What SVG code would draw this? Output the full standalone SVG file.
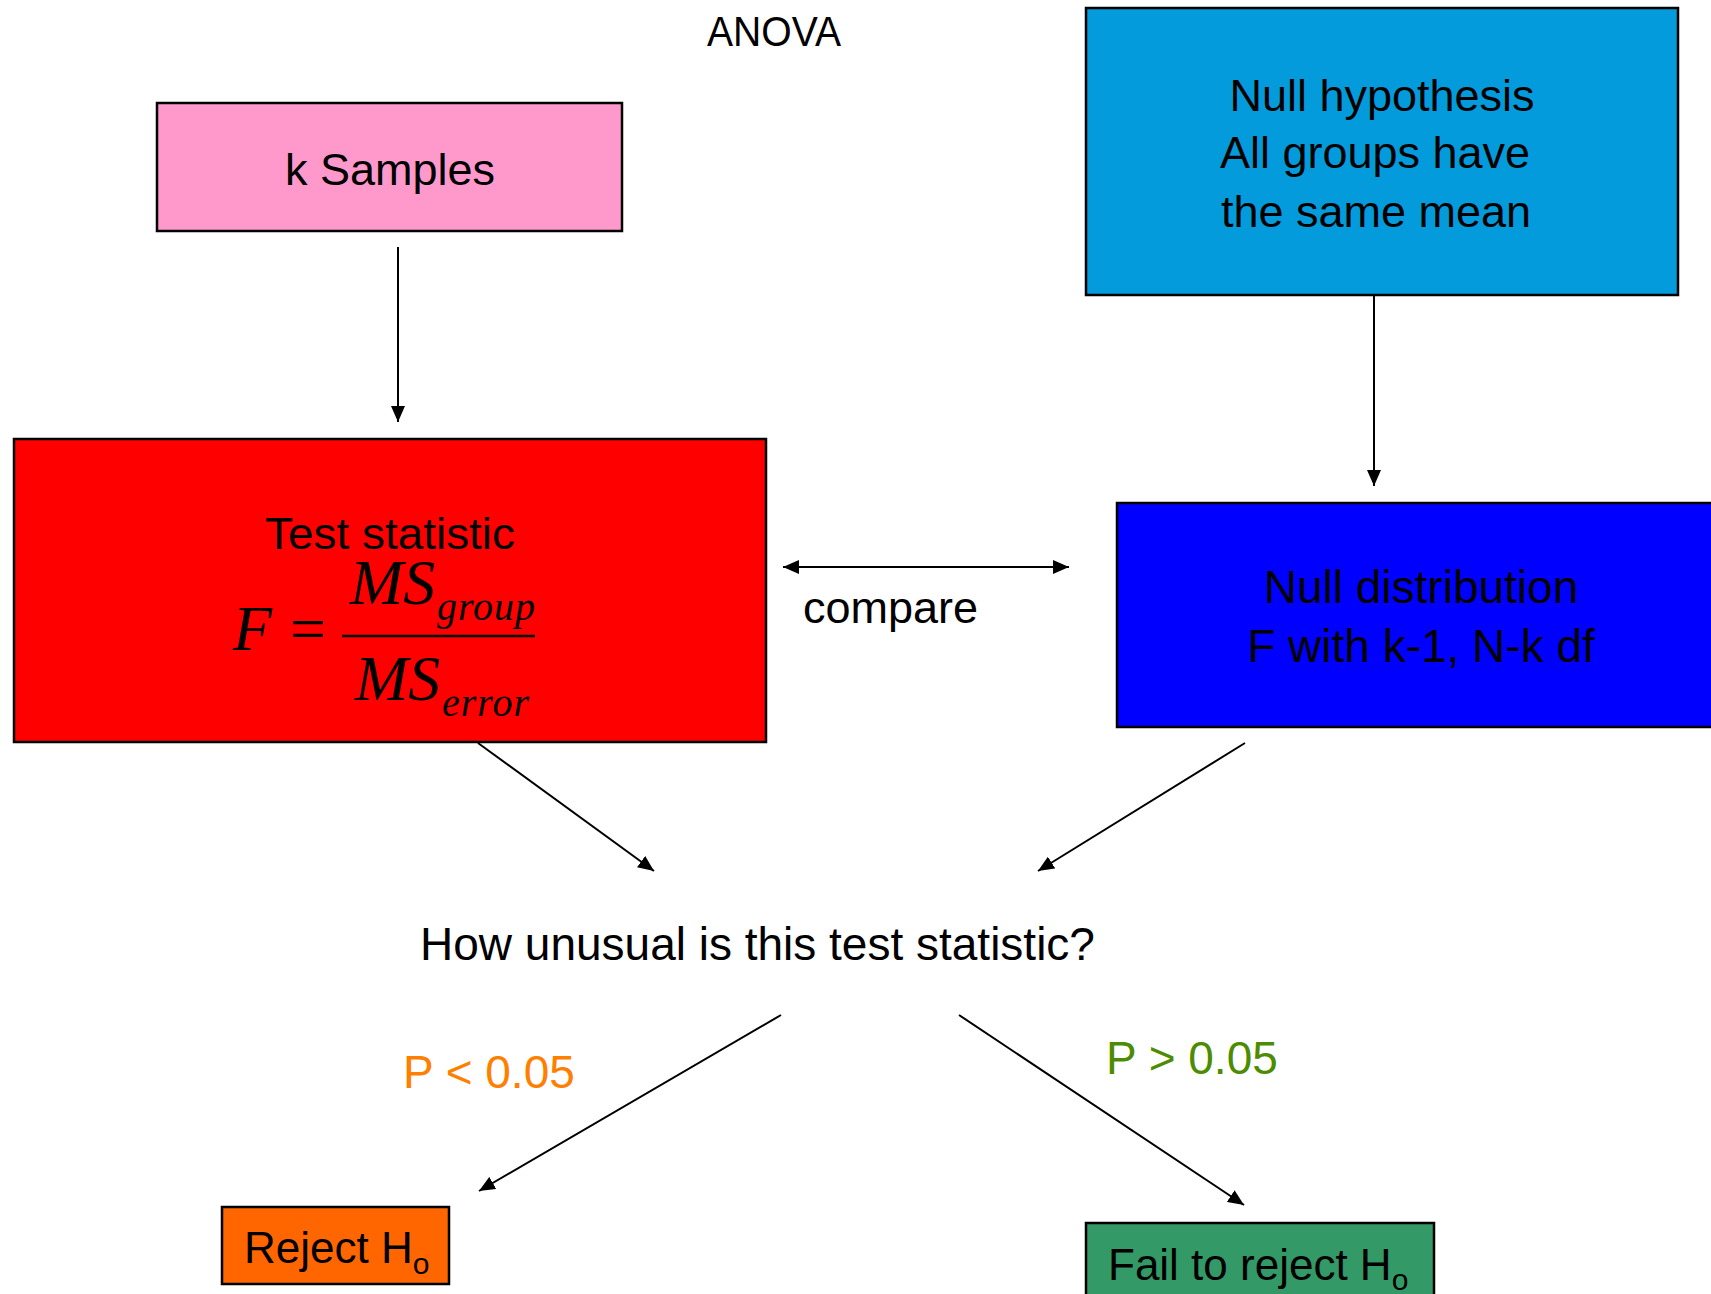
<svg xmlns="http://www.w3.org/2000/svg" width="1711" height="1294" viewBox="0 0 1711 1294">
<defs>
<style>
.box{stroke:#000;stroke-width:2.5}
.t{font-family:"Liberation Sans",Arial,sans-serif;fill:#000}
.m{font-family:"Liberation Serif","Times New Roman",serif;font-style:italic;fill:#000}
.c{stroke:#000;stroke-width:2;fill:none}
</style>
<marker id="ah" markerUnits="userSpaceOnUse" markerWidth="16" markerHeight="14" refX="16" refY="7" orient="auto-start-reverse" viewBox="0 0 16 14">
<path d="M0,0 L16,7 L0,14 z" fill="#000"/>
</marker>
</defs>
<rect width="1711" height="1294" fill="#fff"/>

<g id="title">
<text class="t" x="707" y="46" font-size="43" textLength="134" lengthAdjust="spacingAndGlyphs">ANOVA</text>
</g>

<g id="k-samples">
<rect class="box" x="157" y="103" width="465" height="128" fill="#FF99CC"/>
<text class="t" x="390" y="185" font-size="45" text-anchor="middle">k Samples</text>
</g>

<g id="null-hypothesis">
<rect class="box" x="1086" y="8" width="592" height="287" fill="#039BDB"/>
<text class="t" x="1382" y="111" font-size="45" text-anchor="middle">Null hypothesis</text>
<text class="t" x="1375" y="168" font-size="45" text-anchor="middle">All groups have</text>
<text class="t" x="1376" y="227" font-size="45" text-anchor="middle">the same mean</text>
</g>

<g id="test-statistic">
<rect class="box" x="14" y="439" width="752" height="303" fill="#FF0000"/>
<text class="t" x="390" y="549" font-size="44" text-anchor="middle" textLength="250" lengthAdjust="spacingAndGlyphs">Test statistic</text>
<text class="m" x="233" y="650" font-size="64">F</text>
<text x="290" y="650" font-size="64" font-family="Liberation Serif,serif" fill="#000">=</text>
<line x1="342" y1="636" x2="535" y2="636" stroke="#000" stroke-width="2.5"/>
<text class="m" x="350" y="604" font-size="64">MS</text>
<text class="m" x="437" y="620" font-size="40" letter-spacing="1">group</text>
<text class="m" x="355" y="700" font-size="64">MS</text>
<text class="m" x="442" y="716" font-size="40" letter-spacing="1">error</text>
</g>

<g id="null-distribution">
<rect class="box" x="1117" y="503" width="610" height="224" fill="#0000FF"/>
<text class="t" x="1421" y="603" font-size="46" text-anchor="middle">Null distribution</text>
<text class="t" x="1421" y="662" font-size="46" text-anchor="middle">F with k-1, N-k df</text>
</g>

<g id="question">
<text class="t" x="420" y="960" font-size="46">How unusual is this test statistic?</text>
</g>

<g id="reject">
<rect class="box" x="222" y="1207" width="227" height="77" fill="#FF6600"/>
<text class="t" x="244" y="1263" font-size="44">Reject H<tspan font-size="30" dy="11">o</tspan></text>
</g>

<g id="fail-to-reject">
<rect class="box" x="1086" y="1223" width="348" height="90" fill="#339966"/>
<text class="t" x="1108" y="1280" font-size="44">Fail to reject H<tspan font-size="30" dy="10">o</tspan></text>
</g>

<g id="connectors">
<line class="c" x1="398" y1="247" x2="398" y2="422" marker-end="url(#ah)"/>
<line class="c" x1="1374" y1="295" x2="1374" y2="486" marker-end="url(#ah)"/>
<line class="c" x1="783" y1="567" x2="1069" y2="567" marker-start="url(#ah)" marker-end="url(#ah)"/>
<line class="c" x1="478" y1="743" x2="654" y2="871" marker-end="url(#ah)"/>
<line class="c" x1="1245" y1="743" x2="1038" y2="871" marker-end="url(#ah)"/>
<line class="c" x1="781" y1="1015" x2="479" y2="1191" marker-end="url(#ah)"/>
<line class="c" x1="959" y1="1015" x2="1244" y2="1205" marker-end="url(#ah)"/>
<text class="t" x="803" y="623" font-size="45">compare</text>
<text class="t" x="403" y="1088" font-size="46" style="fill:#FF8000">P &lt; 0.05</text>
<text class="t" x="1106" y="1074" font-size="46" style="fill:#4D8C00">P &gt; 0.05</text>
</g>
</svg>
